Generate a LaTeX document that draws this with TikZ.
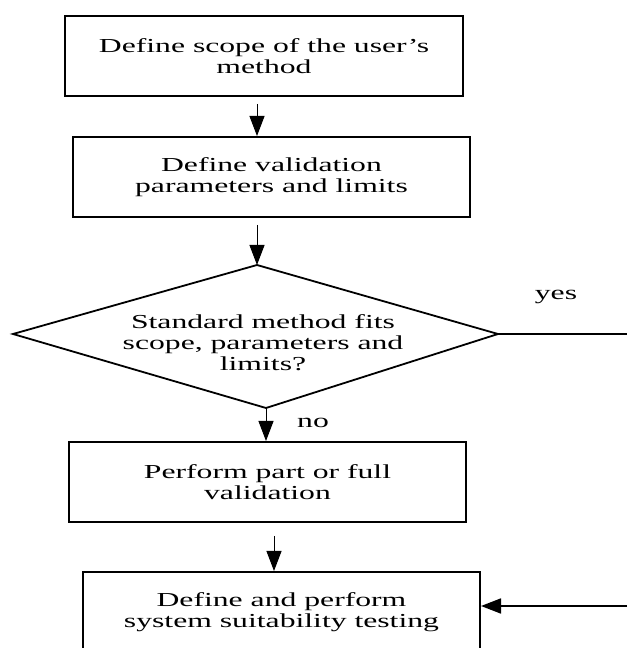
\documentclass[tikz,border=0pt]{standalone}
\usepackage{fontspec}
\setmainfont{Liberation Serif}[FakeStretch=1.6]
\usetikzlibrary{arrows.meta}

\begin{document}
\begin{tikzpicture}[x=1pt, y=1pt, font=\fontsize{19.8}{21}\selectfont,
  box/.style={draw, line width=2pt, minimum width=397pt, minimum height=80pt,
    inner sep=0pt, align=center},
  flow/.style={line width=1pt, -{Triangle[length=20pt, width=15pt]}}]
  \useasboundingbox (0,0) rectangle (627,648);
  % boxes of the chain, top to bottom (last one runs off the page)
  \node[box, minimum width=398pt] (scope) at (264, 592) {Define scope of the user's\\method};
  \node[box] (param) at (271.5, 471) {Define validation\\parameters and limits};
  \node[box] (valid) at (267.5, 166) {Perform part or full\\validation};
  \node[box] (suit)  at (281.5, 36)  {Define and perform\\system suitability testing};
  % decision diamond, corners (slightly skewed)
  \coordinate (dtop) at (257, 383);
  \coordinate (drgt) at (498, 314);
  \coordinate (dbot) at (266, 240);
  \coordinate (dlft) at (13, 314);
  \draw[line width=1.8pt, line join=miter] (dtop)--(drgt)--(dbot)--(dlft)--cycle;
  \node[align=center] (fits) at (263, 305) {Standard method fits\\scope, parameters and\\limits?};
  % yes branch leaves and re-enters at the right edge
  \coordinate (yout) at (627, 314);
  \coordinate (yin)  at (627, 42);
  \node[anchor=base] (yes) at (556, 348) {yes};
  \node[anchor=base] (no)  at (313, 220) {no};
  \draw[flow, shorten <=7pt] (scope.south -| dtop) -- (param.north -| dtop);
  \draw[flow, shorten <=7pt] (param.south -| dtop) -- (dtop);
  \draw[flow] (dbot) -- (dbot |- valid.north);
  \draw[flow, shorten <=13pt] ([xshift=6.5pt]valid.south) -- ([xshift=-7.5pt]suit.north);
  \draw[line width=1.8pt] (drgt) -- (yout);
  \draw[flow, line width=1.8pt] (yin) -- (yin -| suit.east);
\end{tikzpicture}
\end{document}
